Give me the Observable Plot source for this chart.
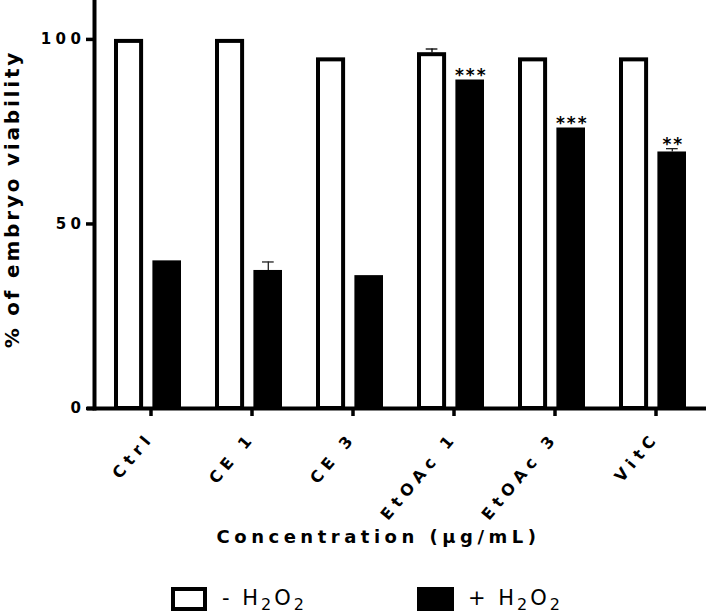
<!DOCTYPE html>
<html><head><meta charset="utf-8">
<script src="https://cdn.jsdelivr.net/npm/d3@7"></script>
<script src="https://cdn.jsdelivr.net/npm/@observablehq/plot@0.6"></script>
<style>
body{margin:0;background:#fff;font-family:"DejaVu Sans",sans-serif;}
#wrap{position:relative;width:706px;height:614px;background:#fff;}
#chart{position:absolute;left:0;top:0;}
.box{position:absolute;top:587px;height:24px;box-sizing:border-box;}
.lt{position:absolute;top:586px;line-height:24px;font-size:21px;letter-spacing:3px;white-space:nowrap;color:#000;}
.lt span{font-size:16px;vertical-align:-5px;}
</style>
</head><body>
<div id="wrap">
  <div id="chart"></div>
  <div class="box" style="left:171px;width:36px;border:4px solid #000;background:#fff;"></div>
  <div class="lt" id="leg1" style="left:222px;"></div>
  <div class="box" style="left:417px;width:37px;background:#000;"></div>
  <div class="lt" id="leg2" style="left:468px;"></div>
</div>
<script>
const groups = ["Ctrl", "CE 1", "CE 3", "EtOAc 1", "EtOAc 3", "VitC"];
const minusH2O2 = [100, 100, 95, 96.4, 95, 95];
const minusErr = [0, 0, 0, 1.0, 0, 0];
const plusH2O2 = [40, 37.4, 36, 89, 76, 69.5];
const plusErr = [0, 2.3, 0, 0, 0, 0.9];
const signif = ["", "", "", "***", "***", "**"];
const yTicks = [0, 50, 100];
const xTitle = "Concentration (µg/mL)";
const yTitle = "% of embryo viability";
const seriesNames = ["- H", "+ H"];

const minus = groups.map((g, i) => ({group: g, value: minusH2O2[i], err: minusErr[i]}));
const plus = groups.map((g, i) => ({group: g, value: plusH2O2[i], err: plusErr[i], star: signif[i]}));

const chart = Plot.plot({
  width: 706, height: 575,
  marginTop: 2, marginLeft: 94, marginRight: 0, marginBottom: 167,
  style: {fontFamily: "DejaVu Sans, sans-serif", fontSize: "15px", fontWeight: "bold", background: "#fff", color: "#000", overflow: "visible"},
  x: {type: "band", domain: groups, paddingInner: 0.338, paddingOuter: 0.18},
  y: {domain: [0, 110]},
  marks: [
    Plot.barY(minus, {x: "group", y: "value", fill: "white", stroke: "black", strokeWidth: 4, insetLeft: 2, insetRight: 39.9, insetTop: 2}),
    Plot.barY(plus, {x: "group", y: "value", fill: "black", insetLeft: 38.4, insetRight: 0}),
    Plot.ruleX(minus.filter(d => d.err > 0), {x: "group", y1: "value", y2: d => d.value + d.err, dx: -19, stroke: "black", strokeWidth: 1.3}),
    Plot.tickY(minus.filter(d => d.err > 0), {x: "group", y: d => d.value + d.err, insetLeft: 8.7, insetRight: 46.6, stroke: "black", strokeWidth: 1.3}),
    Plot.ruleX(plus.filter(d => d.err > 0), {x: "group", y1: "value", y2: d => d.value + d.err, dx: 19.3, stroke: "#222", strokeWidth: 1.3}),
    Plot.tickY(plus.filter(d => d.err > 0), {x: "group", y: d => d.value + d.err, insetLeft: 47, insetRight: 8.3, stroke: "#222", strokeWidth: 1.3}),
    Plot.text(plus, {x: "group", y: d => d.value + d.err, text: "star", dx: 20.3, dy: 1.3, lineAnchor: "bottom", fontSize: 17, fontWeight: "bold", fill: "black", ariaDescription: "stars"}),
    Plot.ruleY([0], {stroke: "black", strokeWidth: 4, insetLeft: -7}),
    Plot.frame({anchor: "left", stroke: "black", strokeWidth: 4, insetTop: -2}),
    Plot.axisY(yTicks, {tickSize: 8, tickPadding: 1, strokeWidth: 3.5, label: null, fontSize: 15, fontWeight: "bold"}),
    Plot.axisX({tickRotate: -50, tickSize: 8, tickPadding: 18, strokeWidth: 3.5, label: null, fontSize: 16, fontWeight: "bold", dx: 3}),
    Plot.text([xTitle], {frameAnchor: "bottom", lineAnchor: "middle", dx: -22, dy: 129, fontSize: 18, fontWeight: "bold", fill: "black", ariaDescription: "xtitle"}),
    Plot.text([yTitle], {frameAnchor: "left", textAnchor: "middle", lineAnchor: "middle", rotate: -90, dx: -82, dy: -6.4, fontSize: 20, fontWeight: "bold", fill: "black", ariaDescription: "ytitle"})
  ]
});
document.getElementById("chart").appendChild(chart);
const svg = d3.select(chart);
svg.selectAll('g[aria-label="y-axis tick label"] text').style("letter-spacing", "4.5px");
svg.selectAll('g[aria-label="x-axis tick label"] text').style("letter-spacing", "5.5px");
svg.selectAll('g[aria-description="stars"] text').style("letter-spacing", "2px");
svg.selectAll('g[aria-description="xtitle"] text').style("letter-spacing", "4.5px");
svg.selectAll('g[aria-description="ytitle"] text').style("letter-spacing", "2.8px");

document.getElementById("leg1").innerHTML = seriesNames[0] + "<span>2</span>O<span>2</span>";
document.getElementById("leg2").innerHTML = seriesNames[1] + "<span>2</span>O<span>2</span>";
</script>
</body></html>
